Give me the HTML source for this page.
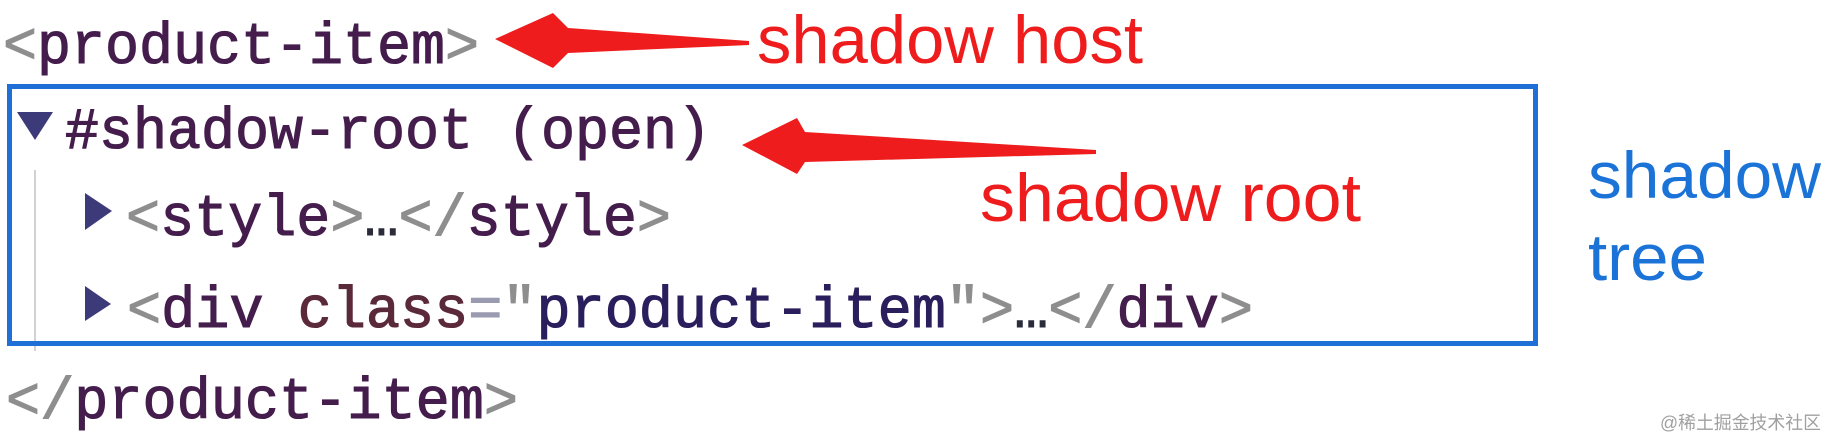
<!DOCTYPE html>
<html>
<head>
<meta charset="utf-8">
<style>
  html, body { margin: 0; padding: 0; background: #ffffff; }
  body { width: 1838px; height: 448px; overflow: hidden; }
  svg { display: block; }
  .mono { font-family: "Liberation Mono", "DejaVu Sans Mono", monospace; font-size: 58px; stroke-width: 1.1px; }
  .sans { font-family: "Liberation Sans", "DejaVu Sans", sans-serif; }
  .br { fill: #8e8e8e; stroke: #8e8e8e; }
  .tag { fill: #441d4d; stroke: #441d4d; }
  .attr { fill: #5a2a3a; stroke: #5a2a3a; }
  .val { fill: #2a1f5c; stroke: #2a1f5c; }
  .eq { fill: #9a9ab0; stroke: #9a9ab0; }
  .ell { fill: #2b2b3b; stroke: #2b2b3b; }
</style>
</head>
<body>
<svg width="1838" height="448" viewBox="0 0 1838 448" xmlns="http://www.w3.org/2000/svg">
  <rect x="0" y="0" width="1838" height="448" fill="#ffffff"/>

  <!-- guide line -->
  <rect x="34" y="170" width="2" height="181" fill="#d2d2d2"/>

  <!-- blue box -->
  <rect x="9.5" y="86.5" width="1526" height="257" fill="none" stroke="#1f6fd6" stroke-width="5"/>

  <!-- line 1 -->
  <text class="mono" x="3" y="63" textLength="476" lengthAdjust="spacingAndGlyphs"><tspan class="br">&lt;</tspan><tspan class="tag">product-item</tspan><tspan class="br">&gt;</tspan></text>

  <!-- line 2 -->
  <polygon points="17,112 53,112 35,140" fill="#3d3a7a"/>
  <text class="mono tag" x="65" y="148" textLength="646" lengthAdjust="spacingAndGlyphs">#shadow-root (open)</text>

  <!-- line 3 -->
  <polygon points="85,193 85,230 112,211" fill="#3d3a7a"/>
  <text class="mono" x="126" y="235" textLength="545" lengthAdjust="spacingAndGlyphs"><tspan class="br">&lt;</tspan><tspan class="tag">style</tspan><tspan class="br">&gt;</tspan><tspan class="ell">…</tspan><tspan class="br">&lt;/</tspan><tspan class="tag">style</tspan><tspan class="br">&gt;</tspan></text>

  <!-- line 4 -->
  <polygon points="85,286 85,321 111,304" fill="#3d3a7a"/>
  <text class="mono" x="127" y="327" textLength="1126" lengthAdjust="spacingAndGlyphs"><tspan class="br">&lt;</tspan><tspan class="tag">div</tspan><tspan class="tag"> </tspan><tspan class="attr">class</tspan><tspan class="eq">=</tspan><tspan class="br">"</tspan><tspan class="val">product-item</tspan><tspan class="br">"</tspan><tspan class="br">&gt;</tspan><tspan class="ell">…</tspan><tspan class="br">&lt;/</tspan><tspan class="tag">div</tspan><tspan class="br">&gt;</tspan></text>

  <!-- line 5 -->
  <text class="mono" x="6" y="418" textLength="512" lengthAdjust="spacingAndGlyphs"><tspan class="br">&lt;/</tspan><tspan class="tag">product-item</tspan><tspan class="br">&gt;</tspan></text>

  <!-- arrow 1 -->
  <polygon points="495,39 553,13 568,28 749,41 749,45 568,53 553,68" fill="#ee1c1c"/>
  <text class="sans" x="757" y="63" font-size="68" fill="#ee1c1c" textLength="386" lengthAdjust="spacingAndGlyphs">shadow host</text>

  <!-- arrow 2 -->
  <polygon points="742,145 797,118 805,132 1096,150 1096,154 805,162 797,174" fill="#ee1c1c"/>
  <text class="sans" x="980" y="221" font-size="68" fill="#ee1c1c" textLength="381" lengthAdjust="spacingAndGlyphs">shadow root</text>

  <!-- shadow tree label -->
  <text class="sans" x="1588" y="198" font-size="66" fill="#1b73d8" textLength="233" lengthAdjust="spacingAndGlyphs">shadow</text>
  <text class="sans" x="1588" y="280" font-size="66" fill="#1b73d8" textLength="119" lengthAdjust="spacingAndGlyphs">tree</text>

  <!-- watermark -->
  <text x="1660" y="429" font-size="18" fill="#a0a0a0" font-family="'Liberation Sans', 'Noto Sans CJK SC', sans-serif" textLength="161" lengthAdjust="spacingAndGlyphs">@稀土掘金技术社区</text>
</svg>
</body>
</html>
